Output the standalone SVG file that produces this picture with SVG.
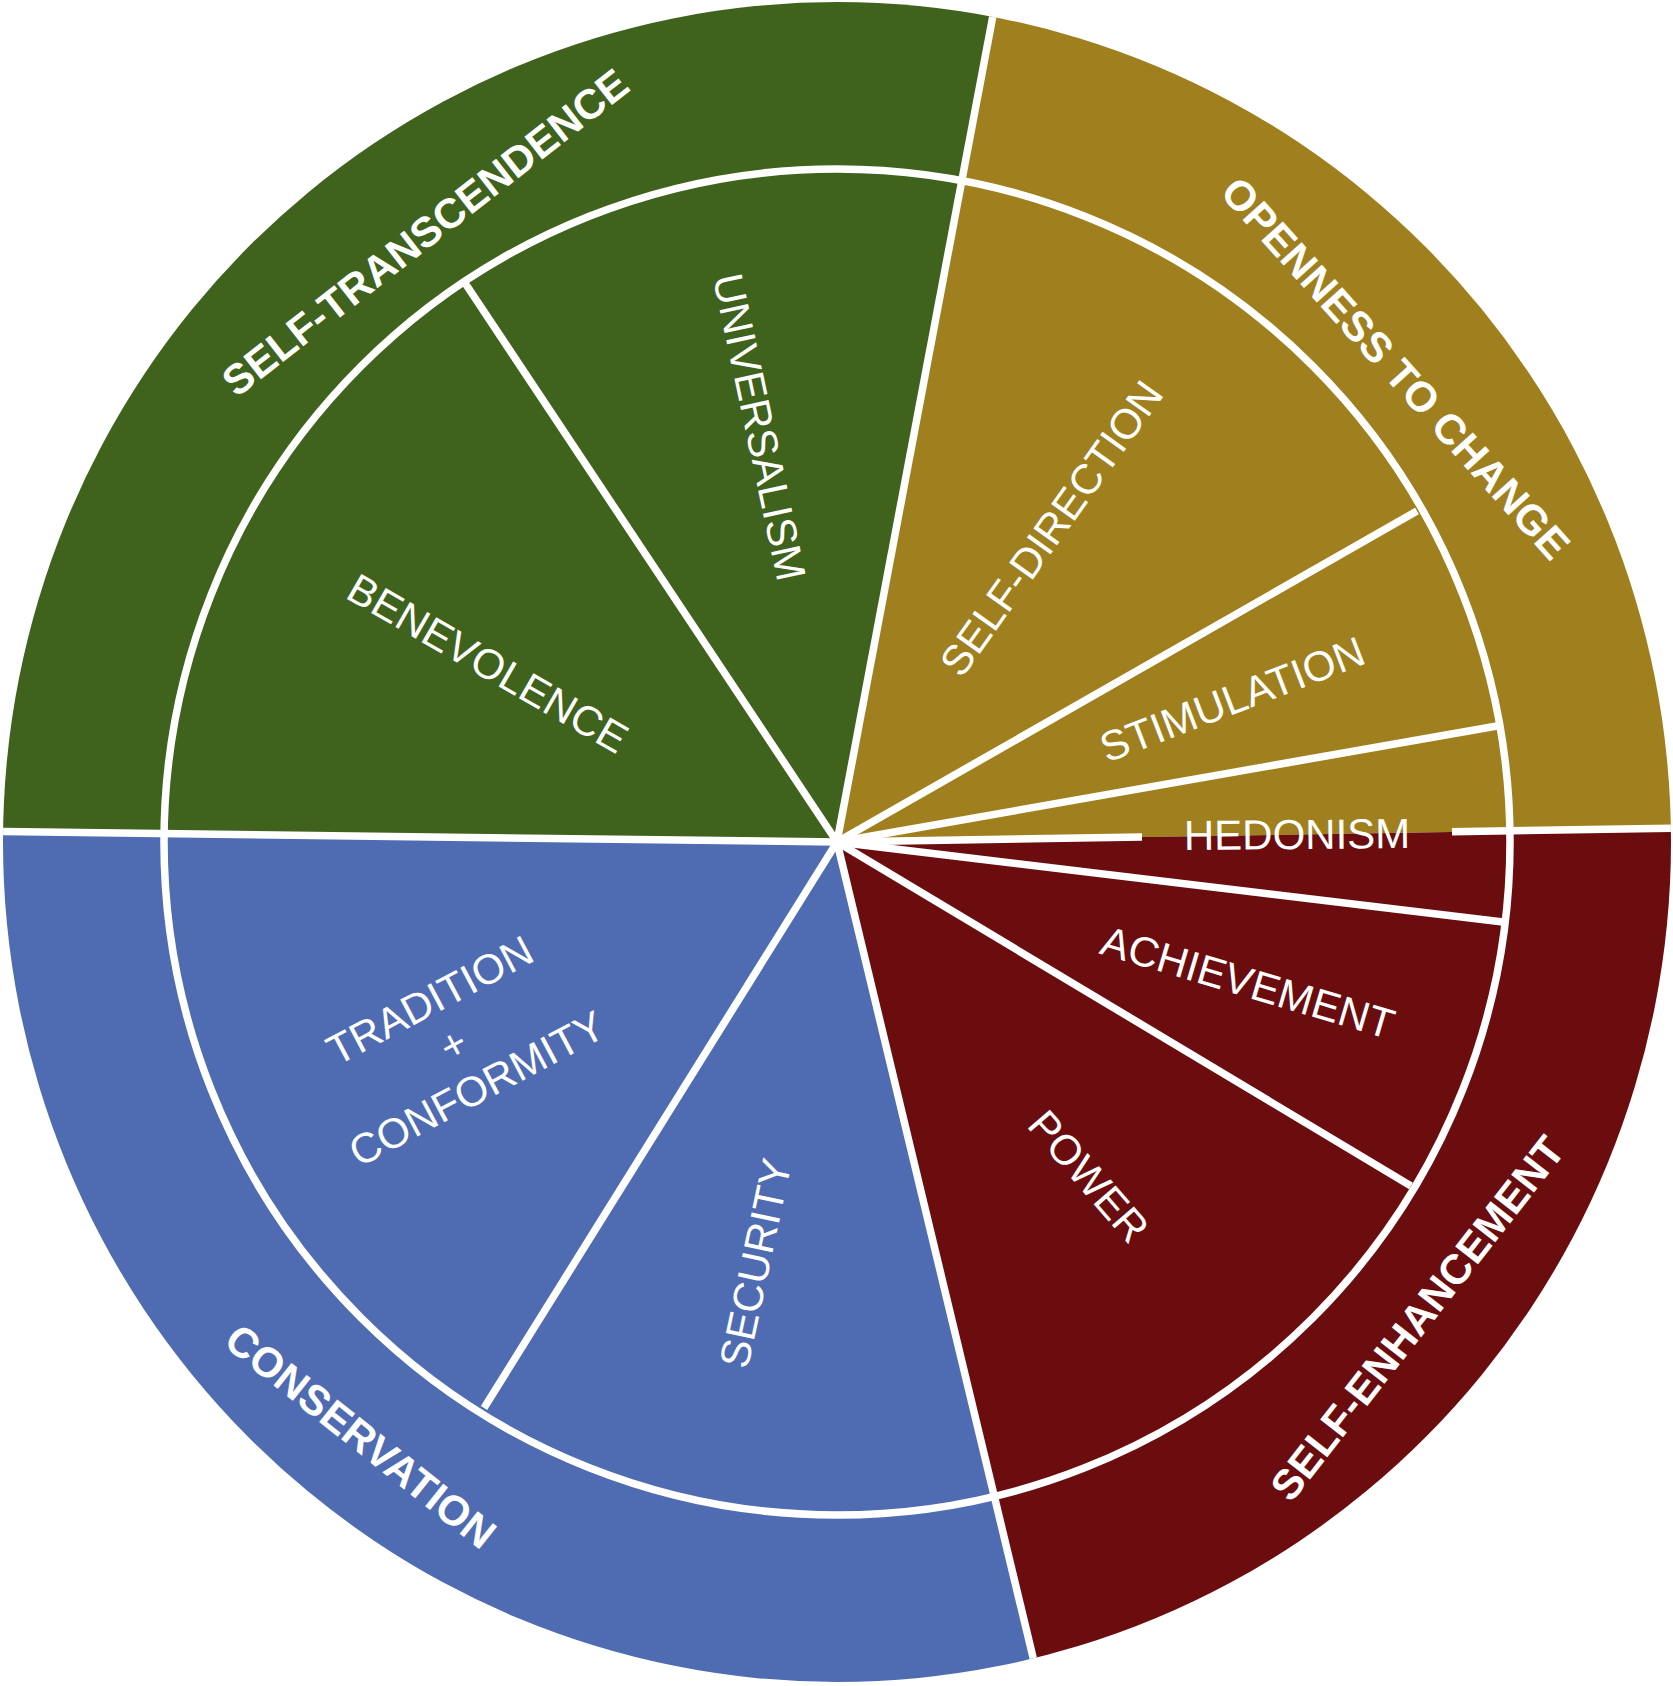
<svg xmlns="http://www.w3.org/2000/svg" width="1673" height="1686" viewBox="0 0 1673 1686">
<defs>
<clipPath id="disc"><ellipse cx="837" cy="842" rx="834" ry="840"/></clipPath>
<style>
.sep{stroke:#ffffff;stroke-width:7.5;fill:none;stroke-linecap:butt}
.lbl{fill:#ffffff;font-family:"Liberation Sans",Arial,sans-serif;font-size:42px;text-anchor:middle}
.grp{font-weight:bold;font-size:42px}
</style>
</defs>
<rect width="1673" height="1686" fill="#ffffff"/>
<g id="sectors" clip-path="url(#disc)">
<polygon id="self-transcendence-sector" fill="#3F621D" points="837,842 -200,829 -200,-300 1041,-239"/>
<polygon id="openness-sector" fill="#A0801E" points="837,842 1041,-239 1950,-300 1937,824"/>
<polygon id="self-enhancement-sector" fill="#6B0D0F" points="837,842 1937,824 1950,1950 1094,1911"/>
<polygon id="conservation-sector" fill="#4F6CB3" points="837,842 1094,1911 -200,1950 -200,829"/>
</g>
<g id="connectors" clip-path="url(#disc)">
<line class="sep" x1="837" y1="842" x2="1041" y2="-239"/>
<line class="sep" x1="837" y1="842" x2="-200" y2="829"/>
<line class="sep" x1="837" y1="842" x2="1094" y2="1911"/>
<line class="sep" x1="837" y1="842" x2="1142" y2="836.9"/>
<line class="sep" x1="1452" y1="831.7" x2="1937" y2="824"/>
<line class="sep" x1="837" y1="842" x2="465" y2="283"/>
<line class="sep" x1="837" y1="842" x2="1417" y2="511"/>
<line class="sep" x1="837" y1="842" x2="1497" y2="726"/>
<line class="sep" x1="837" y1="842" x2="1503" y2="922"/>
<line class="sep" x1="837" y1="842" x2="1411" y2="1186"/>
<line class="sep" x1="837" y1="842" x2="484" y2="1408"/>
<circle class="sep" cx="837" cy="842" r="673"/>
</g>
<g id="self-transcendence"><text class="lbl grp" transform="translate(425,232) rotate(-38)" y="15">SELF-TRANSCENDENCE</text></g>
<g id="openness-to-change"><text class="lbl grp" transform="translate(1396,368) rotate(48)" y="15">OPENNESS TO CHANGE</text></g>
<g id="self-enhancement"><text class="lbl grp" transform="translate(1417,1318) rotate(-52)" y="15">SELF-ENHANCEMENT</text></g>
<g id="conservation"><text class="lbl grp" transform="translate(361,1436) rotate(38.5)" y="15">CONSERVATION</text></g>
<g id="universalism"><text class="lbl" transform="translate(760,427) rotate(78)" y="15">UNIVERSALISM</text></g>
<g id="benevolence"><text class="lbl" transform="translate(488,663) rotate(30)" y="15">BENEVOLENCE</text></g>
<g id="self-direction"><text class="lbl" transform="translate(1051,528) rotate(-54.5)" y="15">SELF-DIRECTION</text></g>
<g id="stimulation"><text class="lbl" transform="translate(1232,699) rotate(-21)" y="15">STIMULATION</text></g>
<g id="hedonism"><text class="lbl" transform="translate(1297,834) rotate(-0.5)" y="15">HEDONISM</text></g>
<g id="achievement"><text class="lbl" transform="translate(1248,982) rotate(16.5)" y="15">ACHIEVEMENT</text></g>
<g id="power"><text class="lbl" transform="translate(1089,1176) rotate(49)" y="15">POWER</text></g>
<g id="security"><text class="lbl" transform="translate(755,1263) rotate(-78)" y="15">SECURITY</text></g>
<g id="tradition-conformity"><text class="lbl" transform="translate(453,1044) rotate(-28)"><tspan x="0" y="-35">TRADITION</tspan><tspan x="0" y="15">+</tspan><tspan x="0" y="65">CONFORMITY</tspan></text></g>
</svg>
